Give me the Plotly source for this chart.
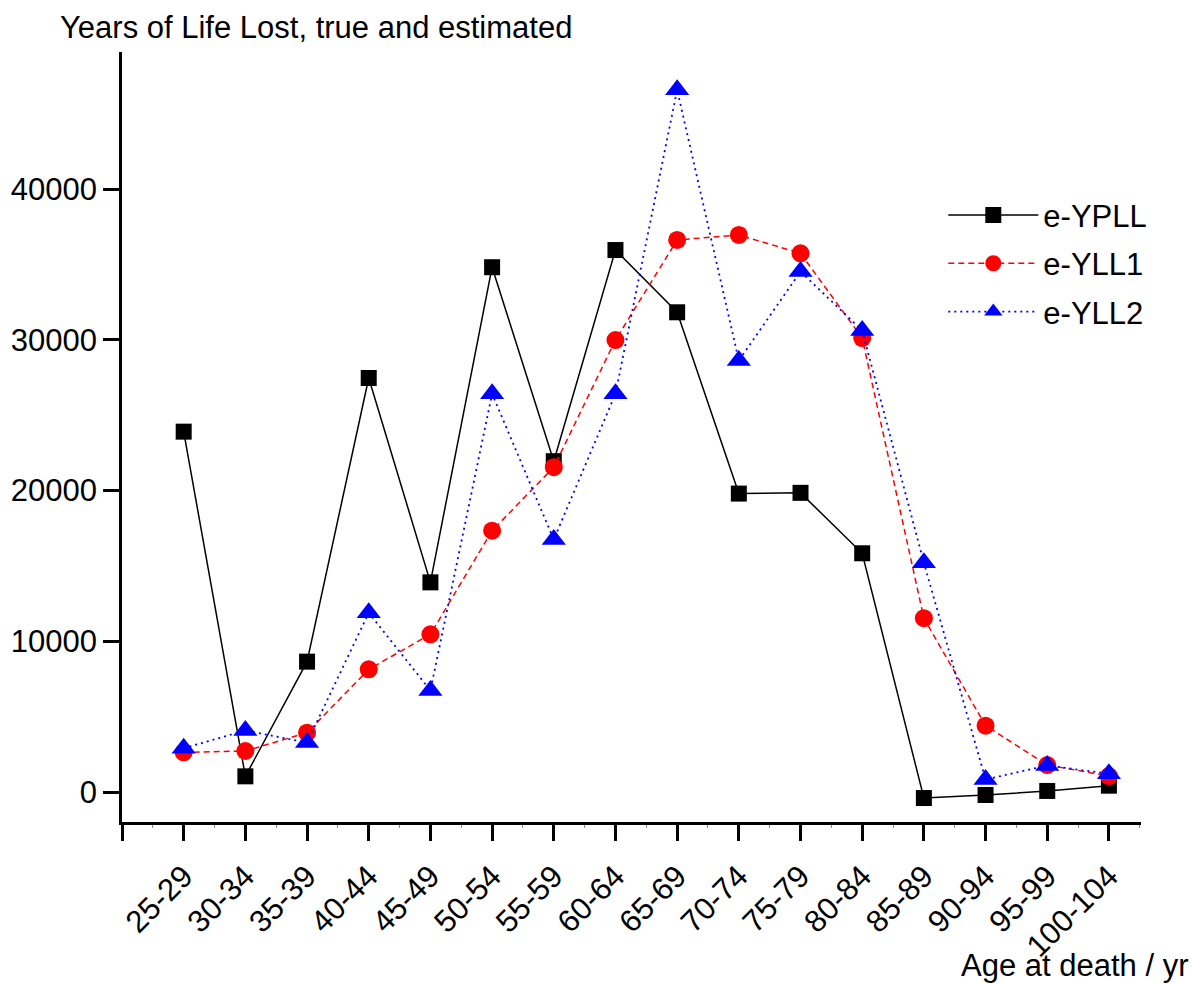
import plotly.graph_objects as go

categories = ["25-29", "30-34", "35-39", "40-44", "45-49", "50-54", "55-59", "60-64",
              "65-69", "70-74", "75-79", "80-84", "85-89", "90-94", "95-99", "100-104"]
e_ypll = [23910, 1040, 8650, 27470, 13910, 34820, 21950, 35960,
          31830, 19800, 19850, 15840, -400, -200, 70, 420]
e_yll1 = [2630, 2720, 3940, 8140, 10460, 17340, 21550, 29990,
          36630, 36960, 35740, 30120, 11530, 4400, 1790, 1060]
e_yll2 = [2900, 4080, 3280, 11890, 6740, 26420, 16750, 26420,
          46590, 28630, 34530, 30620, 15210, 830, 1760, 1210]
y_ticks = [0, 10000, 20000, 30000, 40000]

FONT = "Liberation Sans, Arial, Helvetica, sans-serif"
FS = 31
xs = list(range(len(categories)))

fig = go.Figure()
fig.add_trace(go.Scatter(
    x=xs, y=e_ypll, name="e-YPLL", mode="lines+markers", legendgroup="a",
    line=dict(color="black", width=1.5),
    marker=dict(symbol="square", size=16, color="black")))
fig.add_trace(go.Scatter(
    x=xs, y=e_yll1, name="e-YLL1", mode="lines+markers", legendgroup="b",
    line=dict(color="#ff0000", width=1.5, dash="6px,4px"),
    marker=dict(symbol="circle", size=18, color="#ff0000")))
fig.add_trace(go.Scatter(
    x=xs, y=e_yll2, name="e-YLL2", mode="lines+markers", legendgroup="c",
    line=dict(color="#0000ff", width=1.8, dash="2px,4px"),
    marker=dict(symbol="triangle-up", size=21, color="#0000ff")))

fig.update_layout(
    width=1192, height=984,
    margin=dict(l=122, r=51, t=52, b=162),
    paper_bgcolor="white", plot_bgcolor="white",
    font=dict(family=FONT, size=FS, color="black"),
    title=dict(text="Years of Life Lost, true and estimated", xref="container", yref="container",
               x=60 / 1192, xanchor="left", y=(984 - 27) / 984, yanchor="middle",
               font=dict(size=FS, family=FONT, color="black")),
    showlegend=True,
    legend=dict(x=0.806, xanchor="left", y=0.823, yanchor="top", bgcolor="rgba(0,0,0,0)",
                font=dict(size=FS, family=FONT), itemwidth=90, tracegroupgap=5,
                traceorder="grouped"),
    xaxis=dict(
        range=[-1, 15.52], showgrid=False, zeroline=False,
        showline=True, linecolor="black", linewidth=2.5,
        tickmode="array", tickvals=[-1] + xs, ticktext=[""] + categories,
        ticks="outside", ticklen=16, tickwidth=2.5, tickcolor="black",
        tickangle=-45, tickfont=dict(size=FS, family=FONT),
        ticklabelshift=0, ticklabelstandoff=5,
        minor=dict(tickvals=[i + 0.5 for i in [-1] + xs], ticks="outside", ticklen=3,
                   tickwidth=1, tickcolor="#888888"),
    ),
    yaxis=dict(
        range=[-1990, 49100], showgrid=False, zeroline=False,
        showline=True, linecolor="black", linewidth=2.5,
        tickmode="array", tickvals=y_ticks, ticktext=[str(v) for v in y_ticks],
        ticks="outside", ticklen=16, tickwidth=2.5, tickcolor="black",
        tickfont=dict(size=FS, family=FONT),
    ),
)

fig.add_annotation(text="Age at death / yr", xref="paper", yref="paper",
                   x=(1190 - 122) / 1019, xanchor="right", y=(822 - 965) / 770, yanchor="middle",
                   showarrow=False, font=dict(size=FS, family=FONT, color="black"))

fig.write_html("out.html", config={"displayModeBar": False},
               post_script="document.body.style.margin='0px';")
